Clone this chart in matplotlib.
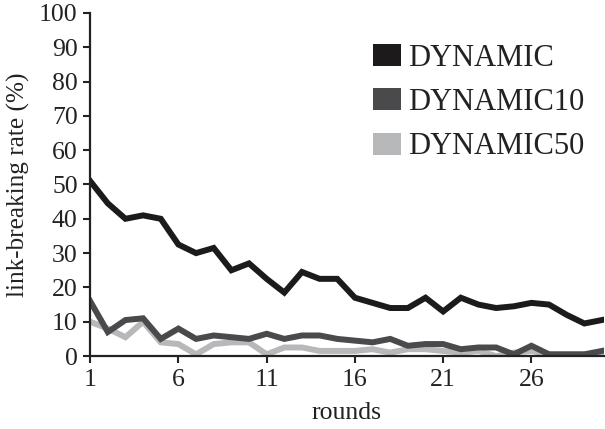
import numpy as np
import matplotlib.pyplot as plt
from matplotlib.patches import Patch

rounds = list(range(1, 31))
dynamic = [51, 44.5, 40, 41, 40, 32.5, 30, 31.5, 25, 27,
           22.5, 18.5, 24.5, 22.5, 22.5, 17, 15.5, 14, 14, 17,
           13, 17, 15, 14, 14.5, 15.5, 15, 12, 9.5, 10.5]
dynamic10 = [16, 7, 10.5, 11, 5, 8, 5, 6, 5.5, 5,
             6.5, 5, 6, 6, 5, 4.5, 4, 5, 3, 3.5,
             3.5, 2, 2.5, 2.5, 0.5, 3, 0.5, 0.5, 0.5, 1.5]
dynamic50 = [10, 8, 5.5, 10, 4, 3.5, 0.5, 3.5, 4, 4,
             0.5, 2.5, 2.5, 1.5, 1.5, 1.5, 2, 1, 2, 2,
             1.5, 1, 1.5, 0, 1, 1.5, 0.5, 0.5, 0.5, 0.5]
labels = ["DYNAMIC", "DYNAMIC10", "DYNAMIC50"]
colors = ["#1c1a1b", "#4a4a4c", "#b7b8ba"]
xticks = [1, 6, 11, 16, 21, 26]
yticks = list(range(0, 101, 10))

plt.rcParams["font.family"] = "serif"
plt.rcParams["font.serif"] = ["Liberation Serif", "DejaVu Serif"]

fig = plt.figure(figsize=(6.05, 4.29), dpi=100)
ax = fig.add_axes([0.149, 0.170, 0.849, 0.80])

# draw light lines first so the dark one sits on top
for ys, c in zip([dynamic50, dynamic10, dynamic], colors[::-1]):
    ax.plot(rounds, ys, color=c, lw=4.3, solid_joinstyle="miter")

ax.set_xlim(1, 30.1)
ax.set_ylim(0, 100)
ax.set_xticks(xticks)
ax.set_yticks(yticks)
ax.tick_params(labelsize=18.5, width=1.5, length=5, colors="#222222", pad=4)
for s in ["top", "right"]:
    ax.spines[s].set_visible(False)
for s in ["left", "bottom"]:
    ax.spines[s].set_linewidth(1.6)
    ax.spines[s].set_color("#222222")

ax.set_xlabel("rounds", fontsize=18.5, color="#222222", labelpad=8)
ax.set_ylabel("link-breaking rate (%)", fontsize=18.2, color="#222222")
ax.yaxis.set_label_coords(-0.118, 0.5)

handles = [Patch(facecolor=c, edgecolor="none") for c in colors]
ax.legend(handles, labels, loc="upper left", bbox_to_anchor=(0.551, 0.91),
          frameon=False, fontsize=22, handlelength=0.92, handleheight=0.72,
          handletextpad=0.22, labelspacing=0.5, borderpad=0, borderaxespad=0,
          labelcolor="#222222")

fig.savefig("out.png", dpi=100)
